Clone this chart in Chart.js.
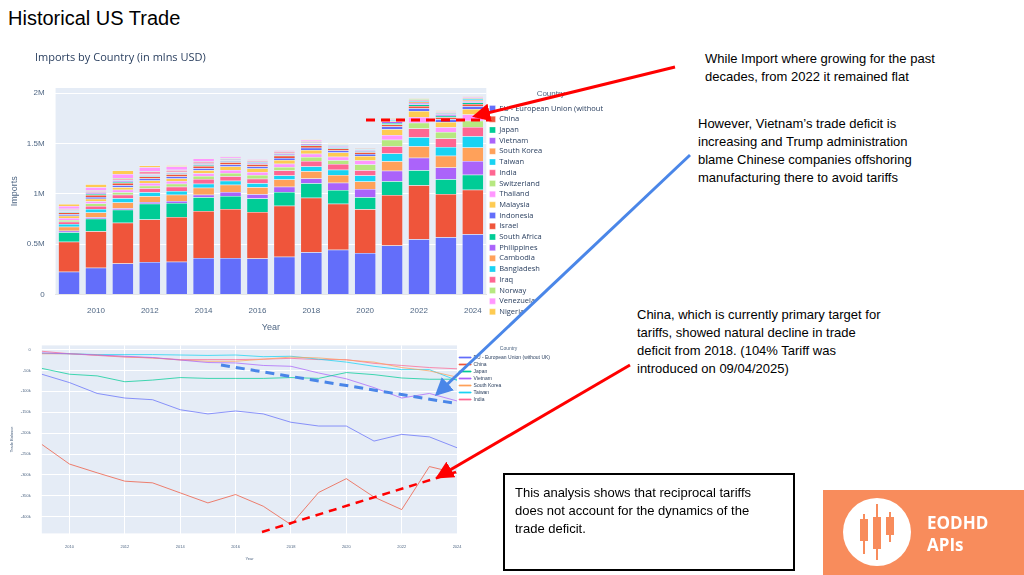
<!DOCTYPE html>
<html lang="en">
<head>
<meta charset="UTF-8">
<title>Historical US Trade</title>
<script src="https://cdn.jsdelivr.net/npm/chart.js@4.4.0/dist/chart.umd.min.js"></script>
<style>
  body { margin: 0; width: 1024px; height: 575px; background: #fff; position: relative; overflow: hidden; font-family: "Liberation Sans", Arial, sans-serif; }
  .abs { position: absolute; }
  #title { left: 8px; top: 7px; font-size: 20px; color: #000; }
  .note { font-size: 13px; line-height: 18px; color: #000; }
  #box { left: 503px; top: 473px; width: 268px; height: 76px; border: 2px solid #000; padding: 9px 10px; font-size: 13px; line-height: 18px; }
  #logo { left: 823px; top: 490px; width: 201px; height: 85px; background: #f88c5c; }
  #logo .circle { position: absolute; left: 20px; top: 8px; width: 68px; height: 68px; border-radius: 50%; background: #fff; }
  #logo .txt { position: absolute; left: 104px; top: 22px; color: #fff; font-weight: bold; font-size: 17px; line-height: 22px; font-family: "Open Sans", sans-serif; }
</style>
</head>
<body>
<div id="title" class="abs">Historical US Trade</div>
<div class="abs" style="left:0;top:40px;width:620px;height:297px"><canvas id="chart1"></canvas></div>
<div class="abs" style="left:0;top:340px;width:560px;height:225px"><canvas id="chart2"></canvas></div>

<div class="abs note" style="left:705px;top:50px">While Import where growing for the past<br>decades, from 2022 it remained flat</div>
<div class="abs note" style="left:698px;top:115px">However, Vietnam’s trade deficit is<br>increasing and Trump administration<br>blame Chinese companies offshoring<br>manufacturing there to avoid tariffs</div>
<div class="abs note" style="left:637px;top:306px">China, which is currently primary target for<br>tariffs, showed natural decline in trade<br>deficit from 2018. (104% Tariff was<br>introduced on 09/04/2025)</div>
<div id="box" class="abs">This analysis shows that reciprocal tariffs<br>does not account for the dynamics of the<br>trade deficit.</div>
<div id="logo" class="abs">
  <div class="circle">
    <svg width="68" height="68">
      <g stroke="#f88c5c" stroke-width="2" fill="#f88c5c">
        <line x1="21" y1="16" x2="21" y2="56"/><rect x="18" y="22" width="6" height="20"/>
        <line x1="34" y1="6" x2="34" y2="62"/><rect x="31" y="20" width="6" height="30"/>
        <line x1="47" y1="14" x2="47" y2="44"/><rect x="44" y="20" width="6" height="16"/>
      </g>
    </svg>
  </div>
  <div class="txt">EODHD<br>APIs</div>
</div>

<svg class="abs" style="left:0;top:0" width="1024" height="575">
  <defs>
    <marker id="ah-red" markerWidth="6" markerHeight="6" refX="5" refY="3" orient="auto"><path d="M0,0 L6,3 L0,6 z" fill="#ff0000"/></marker>
    <marker id="ah-blue" markerWidth="6" markerHeight="6" refX="5" refY="3" orient="auto"><path d="M0,0 L6,3 L0,6 z" fill="#4a86e8"/></marker>
  </defs>
  <line x1="366" y1="120" x2="490" y2="120" stroke="#ff0000" stroke-width="3" stroke-dasharray="9,6"/>
  <line x1="675" y1="67" x2="475" y2="116" stroke="#ff0000" stroke-width="3" marker-end="url(#ah-red)"/>
  <line x1="690" y1="155" x2="437" y2="394" stroke="#4a86e8" stroke-width="3" marker-end="url(#ah-blue)"/>
  <line x1="221" y1="365" x2="453" y2="403" stroke="#4a86e8" stroke-width="3" stroke-dasharray="9,6"/>
  <line x1="630" y1="365" x2="438" y2="477" stroke="#ff0000" stroke-width="3" marker-end="url(#ah-red)"/>
  <line x1="262" y1="532" x2="456" y2="472" stroke="#ff0000" stroke-width="2.5" stroke-dasharray="8,6"/>
</svg>

<script>
// imports in thousands USD (mlns label), years 2009-2024
const years = [2009,2010,2011,2012,2013,2014,2015,2016,2017,2018,2019,2020,2021,2022,2023,2024];
const countries = ['EU - European Union (without UK)','China','Japan','Vietnam','South Korea','Taiwan','India','Switzerland','Thailand','Malaysia','Indonesia','Israel','South Africa','Philippines','Cambodia','Bangladesh','Iraq','Norway','Venezuela','Nigeria'];
const imEU = [227,266,308,324,327,363,363,357,376,421,444,412,486,548,570,600];
const imChina = [298,363,405,422,444,467,486,463,506,539,457,434,503,538,428,440];
const imJapan = [94,123,130,155,137,136,130,133,136,145,136,120,136,149,146,150];
const imVietnam = [15,15,15,18,20,26,39,42,52,46,72,81,104,123,117,136];
const imKorea = [39,48,56,58,62,69,72,70,71,74,77,76,94,115,116,133];
const imTaiwan = [28,35,41,38,37,40,40,39,42,46,54,60,77,88,88,113];
const imIndia = [21,29,36,40,42,45,45,46,48,54,57,51,73,86,83,91];
const imSwitz = [19,24,24,26,31,31,31,36,36,40,36,58,63,58,65,62];
const imThai = [19,23,25,26,26,27,30,30,31,32,35,38,48,58,48,63];
const imMalaysia = [23,26,26,26,27,30,34,36,37,39,42,46,56,58,51,53];
const imIndonesia = [14,16,19,18,19,19,20,19,20,21,20,19,27,28,27,28];
const imIsrael = [18,21,23,22,22,23,24,22,22,22,20,17,21,23,22,22];
const imSAfrica = [9,9,9,9,8,8,7,6,8,9,9,9,15,15,14,14];
const imPhil = [7,9,9,10,10,10,10,10,11,12,12,11,14,15,14,14];
const imCambodia = [2,3,3,3,3,3,3,3,4,4,5,7,9,12,9,13];
const imBangla = [4,4,5,5,5,5,6,6,6,6,6,6,8,10,7,8];
const imIraq = [9,12,14,19,13,13,9,11,10,12,7,4,8,10,6,7];
const imNorway = [5,7,6,6,6,5,5,4,4,5,5,5,6,7,6,7];
const imVenez = [28,32,43,38,32,30,15,11,13,13,1,0,0,0,4,6];
const imNigeria = [19,30,34,19,12,4,2,2,3,5,4,2,5,6,6,6];
const imports = [imEU,imChina,imJapan,imVietnam,imKorea,imTaiwan,imIndia,imSwitz,imThai,imMalaysia,imIndonesia,imIsrael,imSAfrica,imPhil,imCambodia,imBangla,imIraq,imNorway,imVenez,imNigeria];

// trade balance in thousands USD
const tbCountries = ['EU - European Union (without UK)','China','Japan','Vietnam','South Korea','Taiwan','India'];
const tbEU = [-59,-79,-105,-116,-120,-144,-154,-147,-154,-174,-183,-183,-219,-203,-209,-235];
const tbChina = [-227,-274,-295,-315,-319,-343,-367,-347,-375,-419,-342,-309,-353,-383,-280,-296];
const tbJapan = [-45,-59,-63,-77,-73,-67,-69,-69,-69,-67,-69,-55,-60,-68,-71,-71];
const tbVietnam = [-8,-10,-13,-16,-19,-25,-31,-32,-38,-40,-56,-70,-91,-116,-105,-123];
const tbKorea = [-10,-10,-13,-17,-20,-25,-28,-28,-23,-18,-20,-25,-30,-43,-51,-66];
const tbTaiwan = [-9,-10,-12,-12,-12,-13,-14,-13,-17,-16,-23,-30,-40,-48,-48,-74];
const tbIndia = [-4,-10,-14,-18,-20,-24,-24,-24,-23,-21,-24,-24,-33,-38,-43,-46];
const balances = [tbEU,tbChina,tbJapan,tbVietnam,tbKorea,tbTaiwan,tbIndia];

const palette = ['#636EFA','#EF553B','#00CC96','#AB63FA','#FFA15A','#19D3F3','#FF6692','#B6E880','#FF97FF','#FECB52'];
const tickColor = '#506784';

function fmtM(v) {
  if (v === 0) return '0';
  return (v / 1000) + 'M';
}

const chartTitle = {
  id: 'chartTitle',
  afterDraw(chart, args, opts) {
    const c = chart.ctx;
    c.save();
    c.font = '11px "Open Sans", sans-serif';
    c.fillStyle = '#2a3f5f';
    c.fillText(opts.text, opts.x, opts.y);
    c.restore();
  }
};

const plotBg = {
  id: 'plotBg',
  beforeDraw(chart) {
    const a = chart.chartArea, c = chart.ctx;
    c.save(); c.fillStyle = '#e5ecf6'; c.fillRect(a.left, a.top, a.right - a.left, a.bottom - a.top); c.restore();
  }
};

new Chart(document.getElementById('chart1'), {
  type: 'bar',
  data: {
    labels: years,
    datasets: countries.map((name, i) => ({
      label: name,
      data: imports[i],
      backgroundColor: palette[i % 10],
      borderColor: 'rgba(255,255,255,0.6)',
      borderWidth: 0.5,
      categoryPercentage: 1,
      barPercentage: 0.8
    }))
  },
  options: {
    responsive: true, maintainAspectRatio: false, animation: false,
    layout: { padding: { left: 5, top: 48, right: 5, bottom: 0 } },
    plugins: {
      chartTitle: { text: 'Imports by Country (in mlns USD)', x: 35, y: 21 },
      legend: {
        position: 'right', align: 'start',
        title: { display: true, text: 'Country', color: tickColor, font: { size: 8 }, padding: 2 },
        labels: { boxWidth: 6, boxHeight: 6, padding: 3.2, color: '#2a3f5f', font: { size: 7.5, family: 'Open Sans' },
          generateLabels(chart) {
            return Chart.defaults.plugins.legend.labels.generateLabels(chart).map(l => {
              if (l.text.length > 30) l.text = l.text.slice(0, 29);
              return l;
            });
          } }
      },
      tooltip: { enabled: false }
    },
    scales: {
      x: {
        stacked: true,
        grid: { display: false },
        ticks: { color: tickColor, font: { size: 8 }, maxRotation: 0, autoSkip: false,
          callback(v, i) { return years[i] % 2 === 0 ? years[i] : ''; } },
        title: { display: true, text: 'Year', color: tickColor, font: { size: 9 } }
      },
      y: {
        stacked: true, min: 0, max: 2050,
        afterBuildTicks(axis) { axis.ticks = [0,500,1000,1500,2000].map(v => ({ value: v })); },
        grid: { color: '#fff' },
        border: { display: false },
        ticks: { color: tickColor, font: { size: 8 }, callback: fmtM },
        title: { display: true, text: 'Imports', color: tickColor, font: { size: 9 } }
      }
    }
  },
  plugins: [chartTitle, plotBg]
});

new Chart(document.getElementById('chart2'), {
  type: 'line',
  data: {
    datasets: tbCountries.map((name, i) => ({
      label: name,
      data: years.map((y, j) => ({ x: y, y: balances[i][j] })),
      borderColor: palette[i] + 'bb',
      backgroundColor: palette[i],
      borderWidth: 1,
      pointRadius: 0,
      tension: 0
    }))
  },
  options: {
    responsive: true, maintainAspectRatio: false, animation: false,
    layout: { padding: { left: 5, top: 5, right: 0, bottom: 0 } },
    plugins: {
      legend: {
        position: 'right', align: 'start',
        title: { display: true, text: 'Country', color: tickColor, font: { size: 5 }, padding: 1 },
        labels: { boxWidth: 12, boxHeight: 1, padding: 2, color: '#2a3f5f', font: { size: 5 } }
      },
      tooltip: { enabled: false }
    },
    scales: {
      x: {
        type: 'linear', min: 2009, max: 2024,
        afterBuildTicks(axis) { axis.ticks = [2010,2012,2014,2016,2018,2020,2022,2024].map(v => ({ value: v })); },
        grid: { color: '#fff' }, border: { display: false },
        ticks: { color: tickColor, font: { size: 4 }, callback: v => String(v) },
        title: { display: true, text: 'Year', color: tickColor, font: { size: 4 } }
      },
      y: {
        min: -440, max: 10,
        afterBuildTicks(axis) { axis.ticks = [0,-50,-100,-150,-200,-250,-300,-350,-400].map(v => ({ value: v })); },
        grid: { color: '#fff' }, border: { display: false },
        ticks: { color: tickColor, font: { size: 4 }, callback: v => v === 0 ? '0' : v + 'k' },
        title: { display: true, text: 'Trade Balance', color: tickColor, font: { size: 4 } }
      }
    }
  },
  plugins: [plotBg]
});
</script>
</body>
</html>
